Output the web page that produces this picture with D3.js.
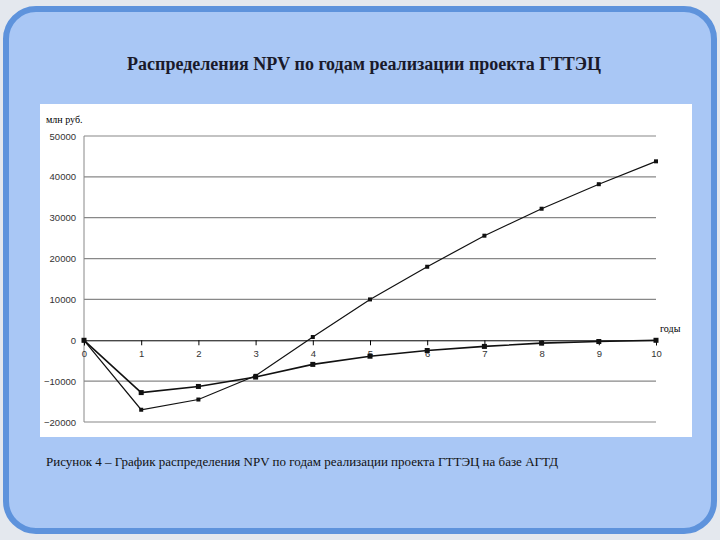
<!DOCTYPE html>
<html><head><meta charset="utf-8">
<script src="https://cdn.jsdelivr.net/npm/d3@7"></script>
<style>body{margin:0;background:#e4e8ee}</style></head>
<body><svg id="c" width="720" height="540"></svg>
<script>
const years = [0,1,2,3,4,5,6,7,8,9,10];
const npvA = [0,-17000,-14500,-8700,800,10000,18000,25600,32200,38200,43800];
const npvB = [0,-12800,-11300,-9000,-5900,-3900,-2500,-1500,-700,-300,0];
const yTicks = [50000,40000,30000,20000,10000,0,-10000,-20000];
const title = "Распределения NPV по годам реализации проекта ГТТЭЦ";
const caption = "Рисунок 4 – График распределения NPV по годам реализации проекта ГТТЭЦ на базе АГТД";

const svg = d3.select("#c");
svg.append("rect").attr("x",6).attr("y",9).attr("width",708).attr("height",522).attr("rx",30)
  .attr("fill","#a9c7f5").attr("stroke","#5e93dc").attr("stroke-width",6);
svg.append("text").attr("x",364).attr("y",70).attr("text-anchor","middle")
  .attr("font-family","Liberation Serif").attr("font-weight","bold").attr("font-size",18).attr("fill","#1a1a2a").text(title);
svg.append("rect").attr("x",40).attr("y",104).attr("width",652).attr("height",333).attr("fill","#fff");
svg.append("text").attr("x",46).attr("y",466)
  .attr("font-family","Liberation Serif").attr("font-size",13).attr("fill","#111").text(caption);

const x = d3.scaleLinear().domain([0,10]).range([84,656]);
const y = d3.scaleLinear().domain([-20000,50000]).range([422,136]);
const g = svg.append("g");
g.selectAll(".grid").data(yTicks.filter(d=>d!==0)).join("line")
  .attr("x1",84).attr("x2",656).attr("y1",d=>y(d)).attr("y2",d=>y(d)).attr("stroke","#888").attr("stroke-width",1.2);
g.append("line").attr("x1",84).attr("x2",84).attr("y1",y(50000)).attr("y2",y(-20000)).attr("stroke","#888");
g.append("g").attr("transform","translate(84,0)")
  .call(d3.axisLeft(y).tickValues(yTicks).tickSize(0).tickPadding(8).tickFormat(d3.format("d")))
  .call(a=>{a.select(".domain").remove();a.selectAll("text").attr("font-family","Liberation Sans").attr("font-size",9.5).attr("fill","#333");});
g.append("g").attr("transform",`translate(0,${y(0)})`)
  .call(d3.axisBottom(x).tickValues(years).tickSize(5).tickPadding(5).tickFormat(d3.format("d")))
  .call(a=>{a.select(".domain").attr("stroke","#000");a.selectAll("text").attr("font-family","Liberation Sans").attr("font-size",9.5).attr("fill","#333");});
svg.append("text").attr("x",46).attr("y",123).attr("font-family","Liberation Serif").attr("font-size",10).text("млн руб.");
svg.append("text").attr("x",660).attr("y",332).attr("font-family","Liberation Serif").attr("font-size",10).text("годы");

const line = d3.line().x((d,i)=>x(years[i])).y(d=>y(d));
[npvA,npvB].forEach((s,k)=>{
  g.append("path").attr("d",line(s)).attr("fill","none").attr("stroke","#111").attr("stroke-width",k?1.6:1.2);
  g.selectAll(null).data(s).join("rect").attr("x",(d,i)=>x(years[i])-(k?2.5:2)).attr("y",d=>y(d)-(k?2.5:2))
    .attr("width",k?5:4).attr("height",k?5:4).attr("fill","#111");
});
</script></body></html>
